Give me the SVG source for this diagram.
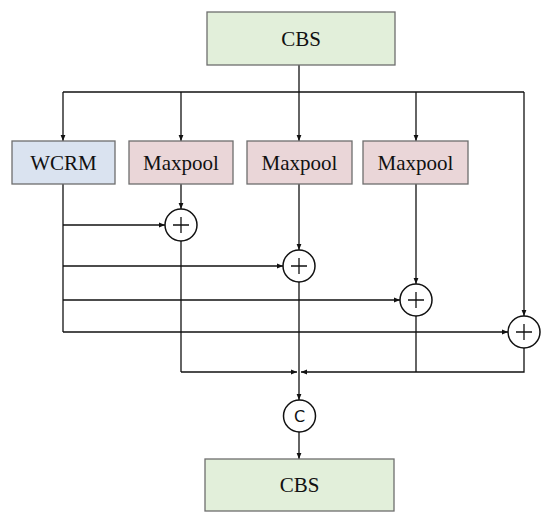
<svg xmlns="http://www.w3.org/2000/svg" width="550" height="525" viewBox="0 0 550 525">
<style>
.box{stroke:#6e6e6e;stroke-width:1.3}
.cbs{fill:#e2efda}
.wcrm{fill:#dae3f0}
.mp{fill:#ead6d8}
.lbl{font-family:"Liberation Serif",serif;font-size:21px;fill:#111;text-anchor:middle;dominant-baseline:central}
.ln{fill:none;stroke:#111;stroke-width:1.3}
.ar{marker-end:url(#ah)}
.op{fill:#fff;stroke:#111;stroke-width:1.5}
.c{font-family:"DejaVu Sans",sans-serif;font-size:16px;fill:#111;text-anchor:middle;dominant-baseline:central}
</style>
<defs>
<marker id="ah" viewBox="0 0 10 10" refX="10" refY="5" markerWidth="6" markerHeight="6" markerUnits="userSpaceOnUse" orient="auto">
<path d="M0,1 L10,5 L0,9 z" fill="#111"/>
</marker>
</defs>
<g id="connectors">
<path class="ln" d="M299,65 V92"/>
<path class="ln" d="M63,92 H524"/>
<path class="ln ar" d="M63,92 V141"/>
<path class="ln ar" d="M181,92 V141"/>
<path class="ln ar" d="M299,92 V141"/>
<path class="ln ar" d="M416,92 V141"/>
<path class="ln ar" d="M524,92 V316"/>
<path class="ln" d="M63,184 V332"/>
<path class="ln ar" d="M63,225 H165"/>
<path class="ln ar" d="M63,266 H283"/>
<path class="ln ar" d="M63,300 H400"/>
<path class="ln ar" d="M63,332 H508"/>
<path class="ln ar" d="M181,184 V209"/>
<path class="ln ar" d="M299,184 V250"/>
<path class="ln ar" d="M416,184 V284"/>
<path class="ln" d="M181,241 V372"/>
<path class="ln ar" d="M181,372 H297"/>
<path class="ln ar" d="M524,348 V372 H301"/>
<path class="ln" d="M416,316 V372"/>
<path class="ln ar" d="M299,282 V400"/>
<path class="ln ar" d="M299,432 V459"/>
</g>
<g id="cbs_top"><rect class="box cbs" x="207" y="12" width="188" height="53"/><text class="lbl" x="301" y="39">CBS</text></g>
<g id="wcrm"><rect class="box wcrm" x="12" y="141" width="103" height="43"/><text class="lbl" x="63.5" y="162.5">WCRM</text></g>
<g id="maxpool1"><rect class="box mp" x="129" y="141" width="104" height="43"/><text class="lbl" x="181" y="162.5">Maxpool</text></g>
<g id="maxpool2"><rect class="box mp" x="247" y="141" width="105" height="43"/><text class="lbl" x="299.5" y="162.5">Maxpool</text></g>
<g id="maxpool3"><rect class="box mp" x="363" y="141" width="105" height="43"/><text class="lbl" x="415.5" y="162.5">Maxpool</text></g>
<g id="add1"><circle class="op" cx="181" cy="225" r="16"/><path class="ln" d="M173,225 H189 M181,217 V233"/></g>
<g id="add2"><circle class="op" cx="299" cy="266" r="16"/><path class="ln" d="M291,266 H307 M299,258 V274"/></g>
<g id="add3"><circle class="op" cx="416" cy="300" r="16"/><path class="ln" d="M408,300 H424 M416,292 V308"/></g>
<g id="add4"><circle class="op" cx="524" cy="332" r="16"/><path class="ln" d="M516,332 H532 M524,324 V340"/></g>
<g id="concat"><circle class="op" cx="299.5" cy="416" r="16"/><text class="c" x="299.5" y="416">C</text></g>
<g id="cbs_bottom"><rect class="box cbs" x="205" y="459" width="189" height="52"/><text class="lbl" x="299.5" y="485">CBS</text></g>
</svg>
